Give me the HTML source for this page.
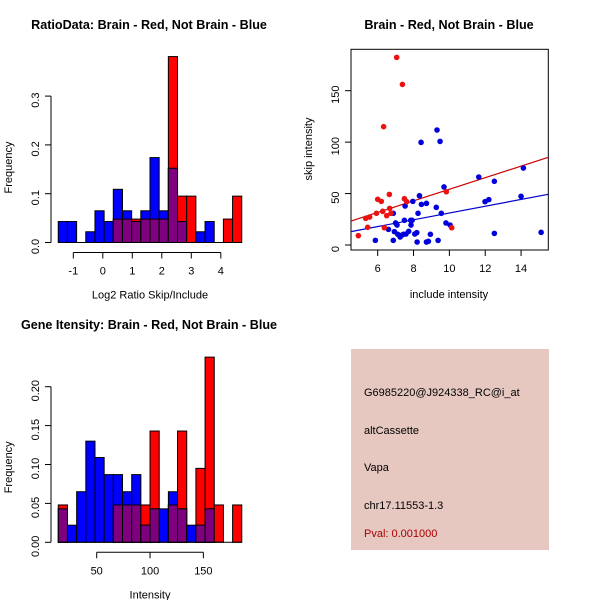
<!DOCTYPE html>
<html><head><meta charset="utf-8"><style>
body{margin:0;background:#fff}
svg{display:block;font-family:"Liberation Sans",sans-serif}
</style></head><body>
<svg id="c" width="600" height="600" viewBox="0 0 600 600">
<rect width="600" height="600" fill="#fff"/>
</svg>
<script>
// ---- Ratio histogram data ----
const ratioStart = -1.51;
const ratioBinW = 0.311;
const ratioBlue = [0.043,0.043,0,0.022,0.065,0.043,0.109,0.065,0.043,0.065,0.174,0.065,0.152,0.043,0,0.022,0.043,0,0,0];
const ratioRed  = [0,0,0,0,0,0,0.048,0.048,0.048,0.048,0.048,0.048,0.381,0.095,0.095,0,0,0,0.048,0.095];
const ratioXTicks = [-1,0,1,2,3,4];
const ratioYTicks = [0,0.1,0.2,0.3];
// ---- Intensity histogram data ----
const intStart = 14;
const intBinW = 8.6;
const intBlue = [0.043,0.022,0.065,0.130,0.109,0.087,0.087,0.065,0.087,0.022,0.043,0.043,0.065,0.043,0.022,0.022,0.043,0,0,0];
const intRed  = [0.048,0,0,0,0,0,0.048,0.048,0.048,0.048,0.143,0,0.048,0.143,0,0.095,0.238,0.048,0,0.048];
const intXTicks = [50,100,150];
const intYTicks = [0,0.05,0.10,0.15,0.20];
const intYLabels = ["0.00","0.05","0.10","0.15","0.20"];
// ---- Scatter data ----
const redX = [4.92,5.33,5.44,5.55,5.93,6.0,6.2,6.28,6.33,6.37,6.5,6.65,6.67,6.74,7.06,7.38,7.49,7.62,9.83,10.13];
const redY = [9.1,25.9,17.2,27.2,30.8,44.4,42.4,32.7,115,16.8,28.5,49.2,35.6,30.8,182.4,156.1,45,42.1,51.8,16.8];
const blueX = [5.87,6.6,6.87,6.87,6.93,7.0,7.08,7.12,7.25,7.36,7.44,7.49,7.53,7.58,7.73,7.84,7.86,7.92,7.96,8.07,8.18,8.2,8.25,8.33,8.42,8.44,8.72,8.72,8.83,8.94,9.27,9.31,9.37,9.48,9.55,9.7,9.81,10.04,11.64,11.99,12.2,12.51,12.51,14.0,14.13,15.12];
const blueY = [4.5,15.2,30.8,4.5,13,21.4,19.4,10.4,7.8,9.7,10.4,24,37.9,10.7,13.3,24,19.4,24,42.4,10.7,12,2.9,30.8,47.9,99.8,39.5,40.5,2.9,3.6,10.4,36.6,111.8,4.5,100.7,30.8,56.4,21.4,19.4,66.1,42.1,44.1,61.9,11.3,47.3,74.8,12.3];
const redLine = [23.3,85.2];
const blueLine = [13,49.3];
const scXTicks = [6,8,10,12,14];
const scYTicks = [0,50,100,150];

const svg = document.getElementById('c');
const NS = 'http://www.w3.org/2000/svg';
function mk(tag, attrs, text){
  const e = document.createElementNS(NS, tag);
  for (const k in attrs) e.setAttribute(k, attrs[k]);
  if (text !== undefined) e.textContent = text;
  svg.appendChild(e);
  return e;
}
function title(x,y,t,name){
  const e = mk('text',{x:x,y:y,'text-anchor':'middle','font-size':12.6,'font-weight':'bold',fill:'#000'},t);
  
  
}
function lab(x,y,t,name,rot){
  const a = {x:x,y:y,'text-anchor':'middle','font-size':11,fill:'#000'};
  if (rot) a.transform = 'rotate(-90 '+x+' '+y+')';
  const e = mk('text',a,t);
  
  
}

function hist(o){
  const X = v => o.x0 + (v - o.xa) * o.xs;
  const Y = v => o.y0 - v * o.ys;
  title(o.titleX, o.titleY, o.title, o.pfx+'-title');
  for (let i=0;i<o.blue.length;i++){
    const l = X(o.start + i*o.bw), r = X(o.start + (i+1)*o.bw);
    const b = o.blue[i], rd = o.red[i];
    if (rd>0){
      const e = mk('rect',{x:l,y:Y(rd),width:r-l,height:Y(0)-Y(rd),fill:'#ff0000',stroke:'#000','stroke-width':1});
      
      
    }
    if (b>0){
      const e = mk('rect',{x:l,y:Y(b),width:r-l,height:Y(0)-Y(b),fill:'#0000ff',stroke:'#000','stroke-width':1});
      
      
    }
    const m = Math.min(b, rd);
    if (m>0){
      const e = mk('rect',{x:l,y:Y(m),width:r-l,height:Y(0)-Y(m),fill:'#7f007f',stroke:'#000','stroke-width':1});
      
      
    }
  }
  const bl = mk('line',{x1:X(o.start),x2:X(o.start+o.blue.length*o.bw),y1:Y(0),y2:Y(0),stroke:'#000'});
  
  
  const yt = o.yTicks;
  const ya = mk('line',{x1:o.yAxX,x2:o.yAxX,y1:Y(yt[0]),y2:Y(yt[yt.length-1]),stroke:'#000'});
  
  
  yt.forEach((t,i)=>{
    mk('line',{x1:o.yAxX-6,x2:o.yAxX,y1:Y(t),y2:Y(t),stroke:'#000'});
    lab(o.yAxX-12, Y(t)+4, o.yLabels[i], o.pfx+'-y-tick-label', true);
  });
  const xt = o.xTicks, xy = o.y0 + 10;
  const xa = mk('line',{x1:X(xt[0]),x2:X(xt[xt.length-1]),y1:xy,y2:xy,stroke:'#000'});
  
  
  xt.forEach(t=>{
    mk('line',{x1:X(t),x2:X(t),y1:xy,y2:xy+6,stroke:'#000'});
    lab(X(t), xy+22, String(t), o.pfx+'-x-tick-label');
  });
  lab(150, o.y0+56, o.xTitle, o.pfx+'-x-axis-title');
  lab(12, o.y0-75, 'Frequency', o.pfx+'-y-axis-title', true);
}

hist({pfx:'ratio-hist',title:'RatioData: Brain - Red, Not Brain - Blue',titleX:149,titleY:29,
  x0:73.3,xa:-1,xs:29.5,y0:242.5,ys:488,start:ratioStart,bw:ratioBinW,blue:ratioBlue,red:ratioRed,
  yTicks:ratioYTicks,yLabels:['0.0','0.1','0.2','0.3'],xTicks:ratioXTicks,yAxX:51,xTitle:'Log2 Ratio Skip/Include'});
hist({pfx:'intensity-hist',title:'Gene Itensity: Brain - Red, Not Brain - Blue',titleX:149,titleY:329,
  x0:96.7,xa:50,xs:1.0667,y0:542.3,ys:778,start:intStart,bw:intBinW,blue:intBlue,red:intRed,
  yTicks:intYTicks,yLabels:intYLabels,xTicks:intXTicks,yAxX:51,xTitle:'Intensity'});

(function(){
  const X = v => 377.7 + (v-6)*17.92;
  const Y = v => 245 - v*1.0287;
  title(449, 29, 'Brain - Red, Not Brain - Blue', 'scatter-title');
  const box = mk('rect',{x:351,y:49.3,width:197.3,height:200.7,fill:'none',stroke:'#000'});
  
  
  const x1 = (351-377.7)/17.92+6, x2 = (548.3-377.7)/17.92+6;
  const rl = mk('line',{x1:X(x1),x2:X(x2),y1:Y(redLine[0]),y2:Y(redLine[1]),stroke:'#cc0000','stroke-width':1.2});
  
  
  const bln = mk('line',{x1:X(x1),x2:X(x2),y1:Y(blueLine[0]),y2:Y(blueLine[1]),stroke:'#0000cc','stroke-width':1.2});
  
  
  blueX.forEach((v,i)=>{
    const c = mk('circle',{cx:X(v),cy:Y(blueY[i]),r:2.8,fill:'#0000dd'});
    
    
  });
  redX.forEach((v,i)=>{
    const c = mk('circle',{cx:X(v),cy:Y(redY[i]),r:2.8,fill:'#ee1111'});
    
    
  });
  scXTicks.forEach(t=>{
    mk('line',{x1:X(t),x2:X(t),y1:250,y2:256,stroke:'#000'});
    lab(X(t), 272, String(t), 'scatter-x-tick-label');
  });
  scYTicks.forEach(t=>{
    mk('line',{x1:345,x2:351,y1:Y(t),y2:Y(t),stroke:'#000'});
    lab(339, Y(t)+4, String(t), 'scatter-y-tick-label', true);
  });
  lab(449, 298, 'include intensity', 'scatter-x-axis-title');
  lab(312, 149, 'skip intensity', 'scatter-y-axis-title', true);
})();

(function(){
  const r = mk('rect',{x:351,y:349,width:198,height:201,fill:'#e6c8c1'});
  
  
  const lines = [['G6985220@J924338_RC@i_at',396,'#000','probe-id'],['altCassette',434,'#000','event-type'],['Vapa',471,'#000','gene-name'],['chr17.11553-1.3',509,'#000','location'],['Pval: 0.001000',537,'#aa0000','p-value']];
  lines.forEach(l=>{
    const t = mk('text',{x:364,y:l[1],'font-size':11,fill:l[2]},l[0]);
    
    
  });
})();
</script>
</body></html>
